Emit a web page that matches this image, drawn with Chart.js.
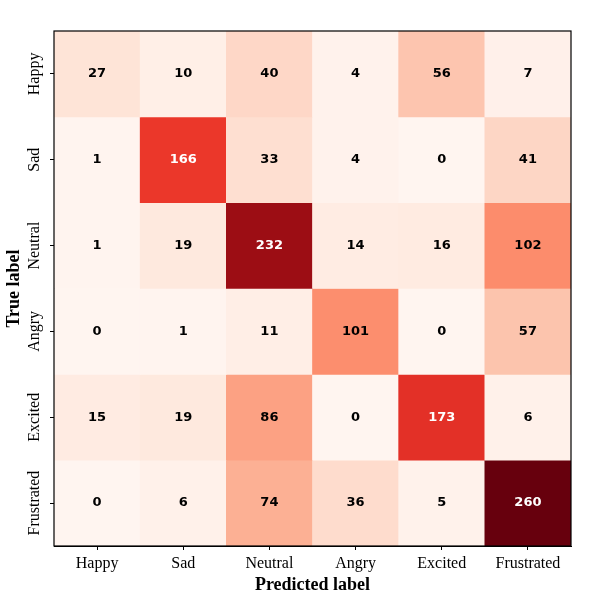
<!DOCTYPE html>
<html>
<head>
<meta charset="utf-8">
<script src="https://cdn.jsdelivr.net/npm/chart.js@4"></script>
<style>
  html, body { margin: 0; padding: 0; background: #fff; }
  #box { width: 600px; height: 600px; }
</style>
</head>
<body>
<div id="box"><canvas id="grafico"></canvas></div>
<script>
// categorias
const trueLabels = ["Happy", "Sad", "Neutral", "Angry", "Excited", "Frustrated"]
const predLabels = ["Happy", "Sad", "Neutral", "Angry", "Excited", "Frustrated"]

// linhas da matriz (true label -> predicted)
const rowHappy      = [27, 10, 40, 4, 56, 7]
const rowSad        = [1, 166, 33, 4, 0, 41]
const rowNeutral    = [1, 19, 232, 14, 16, 102]
const rowAngry      = [0, 1, 11, 101, 0, 57]
const rowExcited    = [15, 19, 86, 0, 173, 6]
const rowFrustrated = [0, 6, 74, 36, 5, 260]

const rows = [rowHappy, rowSad, rowNeutral, rowAngry, rowExcited, rowFrustrated]

// 🎨 mapa de cores "Reds"
const redsStops = [
    [255, 245, 240], [254, 224, 210], [252, 187, 161], [252, 146, 114],
    [251, 106, 74], [239, 59, 44], [203, 24, 29], [165, 15, 21], [103, 0, 13]
]
const vmax = Math.max(...rows.flat())

function reds(v) {
    const t = Math.min(1, Math.max(0, v / vmax)) * (redsStops.length - 1)
    const k = Math.min(redsStops.length - 2, Math.floor(t))
    const f = t - k
    const a = redsStops[k], b = redsStops[k + 1]
    const c = a.map((x, n) => Math.round(x + (b[n] - x) * f))
    return `rgb(${c[0]}, ${c[1]}, ${c[2]})`
}

// 🔲 uma dataset por linha, cada célula = barra flutuante [r, r+1]
const datasets = rows.map((row, r) => ({
    label: trueLabels[r],
    data: row.map(() => [r, r + 1]),
    counts: row,
    backgroundColor: row.map(v => reds(v)),
    borderWidth: 0,
    grouped: false,
    barPercentage: 1,
    categoryPercentage: 1
}))

// números dentro das células + moldura + rótulos do eixo y
const cellText = {
    id: "cellText",
    afterDatasetsDraw(chart) {
        const ctx = chart.ctx
        ctx.save()
        ctx.font = "bold 13px 'DejaVu Sans'"
        ctx.textAlign = "center"
        ctx.textBaseline = "middle"
        chart.data.datasets.forEach((ds, r) => {
            const meta = chart.getDatasetMeta(r)
            meta.data.forEach((bar, j) => {
                const v = ds.counts[j]
                const c = bar.getCenterPoint()
                ctx.fillStyle = v > vmax / 2 ? "#ffffff" : "#000000"
                ctx.fillText(String(v), c.x, c.y)
            })
        })
        ctx.restore()
    },
    afterDraw(chart) {
        const ctx = chart.ctx
        const a = chart.chartArea
        ctx.save()
        ctx.strokeStyle = "#000"
        ctx.lineWidth = 1.2
        ctx.strokeRect(a.left, a.top, a.right - a.left, a.bottom - a.top)

        // rótulos verticais do eixo y
        const ys = chart.scales.y
        ctx.fillStyle = "#000"
        ctx.font = "16px 'Liberation Serif'"
        ctx.textAlign = "center"
        ctx.textBaseline = "middle"
        ys.ticks.forEach((t, i) => {
            const py = ys.getPixelForTick(i)
            ctx.save()
            ctx.translate(ys.right - 19, py)
            ctx.rotate(-Math.PI / 2)
            ctx.fillText(trueLabels[i], 0, 0)
            ctx.restore()
        })
        ctx.restore()
    }
}

let chart = new Chart(document.getElementById("grafico"), {
    type: "bar",
    data: {
        labels: predLabels,
        datasets: datasets
    },
    options: {
        responsive: true,
        maintainAspectRatio: false,
        animation: false,
        layout: { padding: { top: 31, right: 29, bottom: 0, left: 0 } },
        plugins: {
            legend: { display: false },
            tooltip: { enabled: false }
        },
        scales: {
            x: {
                type: "category",
                offset: true,
                grid: {
                    offset: false,
                    drawOnChartArea: false,
                    drawTicks: true,
                    tickLength: 4,
                    color: "#000"
                },
                border: { display: true, color: "#000", width: 1 },
                ticks: {
                    color: "#000",
                    padding: 4,
                    maxRotation: 0,
                    font: { family: "'Liberation Serif'", size: 16 }
                },
                title: {
                    display: true,
                    text: "Predicted label",
                    color: "#000",
                    padding: { top: 4, bottom: 4 },
                    font: { family: "'Liberation Serif'", size: 18, weight: "bold" }
                },
                afterFit(scale) { scale.height = 54 }
            },
            y: {
                type: "linear",
                min: 0,
                max: trueLabels.length,
                reverse: true,
                afterBuildTicks(scale) {
                    scale.ticks = trueLabels.map((_, i) => ({ value: i + 0.5 }))
                },
                grid: {
                    drawOnChartArea: false,
                    drawTicks: true,
                    tickLength: 4,
                    color: "#000"
                },
                border: { display: true, color: "#000", width: 1 },
                ticks: { display: false },
                title: {
                    display: true,
                    text: "True label",
                    color: "#000",
                    padding: { top: 4, bottom: 4 },
                    font: { family: "'Liberation Serif'", size: 18, weight: "bold" }
                },
                afterFit(scale) { scale.width = 54 }
            }
        }
    },
    plugins: [cellText]
})
</script>
</body>
</html>
